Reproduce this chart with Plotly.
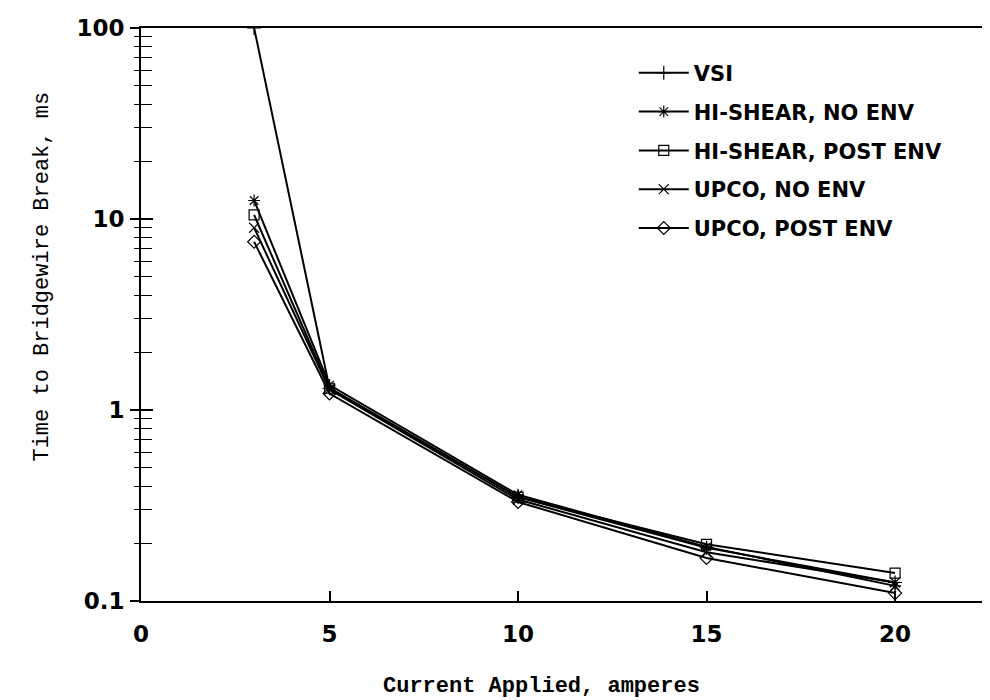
import plotly.graph_objects as go

# ---- data ----
current = [3, 5, 10, 15, 20]
vsi = [100, 1.30, 0.35, 0.190, 0.125]
hishear_no_env = [12.5, 1.35, 0.36, 0.192, 0.120]
hishear_post_env = [10.5, 1.30, 0.35, 0.198, 0.140]
upco_no_env = [9.0, 1.28, 0.34, 0.180, 0.125]
upco_post_env = [7.6, 1.22, 0.33, 0.168, 0.110]

series_names = ["VSI", "HI-SHEAR, NO ENV", "HI-SHEAR, POST ENV", "UPCO, NO ENV", "UPCO, POST ENV"]
series_values = [vsi, hishear_no_env, hishear_post_env, upco_no_env, upco_post_env]
series_symbols = ["cross-thin-open", "asterisk-open", "square-open", "x-thin-open", "diamond-open"]

x_tick_vals = [0, 5, 10, 15, 20]
x_tick_text = ["0", "5", "10", "15", "20"]
y_tick_vals = [0.1, 1, 10, 100]
y_tick_text = ["0.1", "1", "10", "100"]
y_minor_vals = [m * d for d in (0.1, 1, 10) for m in range(2, 10)]

x_title = "Current Applied, amperes"
y_title = "Time to Bridgewire Break, ms"

SANS_BOLD = dict(family="DejaVu Sans, Verdana, sans-serif", color="black", weight="bold")
MONO = "Liberation Mono, Courier New, monospace"

fig = go.Figure()
for name, vals, sym in zip(series_names, series_values, series_symbols):
    fig.add_trace(go.Scatter(
        x=current, y=vals, name=name, mode="lines+markers",
        line=dict(color="black", width=2),
        marker=dict(symbol=sym, size=10, color="black", line=dict(color="black", width=1.2)),
        legendgroup=name,
    ))

# invisible trace for the outside-tick overlay axis
fig.add_trace(go.Scatter(x=[current[0]], y=[vsi[1]], yaxis="y2", mode="markers",
                         marker=dict(opacity=0), showlegend=False, hoverinfo="skip"))

yrange = [-1, 2]
fig.update_layout(
    width=990, height=700,
    margin=dict(l=133, r=0, t=20, b=107),
    paper_bgcolor="white", plot_bgcolor="white",
    showlegend=True,
    legend=dict(x=0.575, y=0.957, xanchor="left", yanchor="top",
                font=dict(size=21, **SANS_BOLD),
                tracegroupgap=8.5, bgcolor="rgba(0,0,0,0)", itemwidth=50),
    xaxis=dict(range=[0, 22.73], showgrid=False, zeroline=False,
               showline=True, linecolor="black", linewidth=2, mirror=True,
               tickvals=x_tick_vals, ticktext=x_tick_text,
               ticks="inside", ticklen=10, tickwidth=1.5, tickcolor="black",
               ticklabelstandoff=11,
               tickfont=dict(size=23, **SANS_BOLD)),
    yaxis=dict(type="log", range=yrange, showgrid=False, zeroline=False,
               showline=True, linecolor="black", linewidth=2,
               tickvals=y_tick_vals, ticktext=y_tick_text,
               ticks="inside", ticklen=12, tickwidth=1.5, tickcolor="black",
               ticklabelstandoff=10,
               minor=dict(tickvals=y_minor_vals, ticks="inside", ticklen=11,
                          tickwidth=1.2, tickcolor="black", showgrid=False),
               tickfont=dict(size=23, **SANS_BOLD)),
    yaxis2=dict(type="log", range=yrange, overlaying="y", side="left", anchor="x",
                showgrid=False, zeroline=False, showline=False,
                tickvals=y_tick_vals, showticklabels=False,
                ticks="outside", ticklen=10, tickwidth=1.5, tickcolor="black",
                minor=dict(tickvals=y_minor_vals, ticks="outside", ticklen=6,
                           tickwidth=1.2, tickcolor="black", showgrid=False)),
    annotations=[
        dict(text=x_title, xref="paper", yref="paper", x=0.467, y=-0.15,
             xanchor="center", yanchor="middle", showarrow=False,
             font=dict(family=MONO, size=22, color="black", weight="bold")),
        dict(text=y_title, xref="paper", yref="paper", x=-0.115, y=0.567,
             xanchor="center", yanchor="middle", showarrow=False, textangle=-90,
             font=dict(family=MONO, size=22, color="black")),
    ],
)

fig.write_html("out.html")
